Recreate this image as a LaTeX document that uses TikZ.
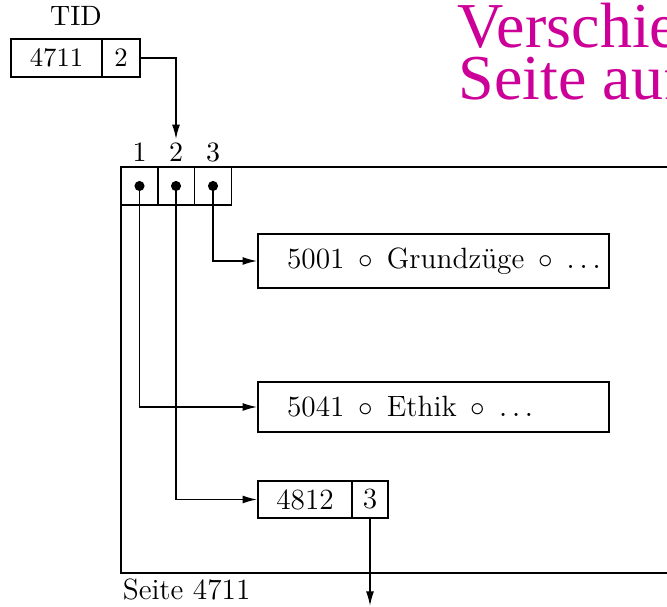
\documentclass[tikz,border=0pt]{standalone}
\usepackage{fontspec}
\newfontfamily\titlefont{Liberation Serif}
\usetikzlibrary{arrows.meta}
\definecolor{titlemag}{RGB}{204,0,153}
\newcommand{\gapsp}{\hspace{5.2pt}}
\begin{document}
\begin{tikzpicture}[x=0.375pt,y=-0.375pt,
  line width=0.6pt,
  arr/.style={-{Latex[length=5.5pt,width=3pt]}},
  tidcell/.style={draw, minimum height=14.25pt, inner sep=0pt, font=\fontsize{10}{12}\selectfont},
  slotcell/.style={draw, minimum width=13.9pt, minimum height=14.25pt, inner sep=0pt},
  recbox/.style={draw, minimum width=131.6pt, text width=131.6pt, inner xsep=0pt, align=left, font=\fontsize{11}{13}\selectfont},
  smallcell/.style={draw, minimum height=13.9pt, inner sep=0pt, font=\fontsize{11}{13}\selectfont},
  numlabel/.style={inner sep=1pt, font=\fontsize{10.5}{12}\selectfont},
  title/.style={anchor=base west, inner sep=0pt, text=titlemag, font=\titlefont\fontsize{24}{24}\selectfont}
]
\useasboundingbox (0,0) rectangle (667,607);
\clip (0,0) rectangle (667,607);

% title (cut off at the right edge)
\node[title] (t1) at (457,48) {Verschieben};
\node[title] (t2) at (458,100) {Seite auf};

% TID
\node[numlabel] (tidlab) at (76,16) {TID};
\node[tidcell, minimum width=34.1pt] (tida) at (56.5,58) {4711};
\node[tidcell, minimum width=14.25pt] (tidb) at (121,58) {2};

% page
\draw (121,167) rectangle (720,573);
\node[anchor=base west, inner sep=0pt, font=\fontsize{11}{13}\selectfont] (seite) at (122,600) {Seite 4711};

% slot cells
\node[slotcell] (s1) at (139.5,186) {};
\node[slotcell] (s2) at (176,186) {};
\node[slotcell] (s3) at (213,186) {};
\node[numlabel] (l1) at (139.5,152) {1};
\node[numlabel] (l2) at (176,152) {2};
\node[numlabel] (l3) at (213,152) {3};
\foreach \s in {s1,s2,s3} \fill (\s.center) circle (1.9pt);

% records
\node[recbox, minimum height=20.25pt] (g) at (433.5,261) {\hspace*{10.9pt}5001\gapsp$\circ$\gapsp Grundzüge\gapsp$\circ$\gapsp$\ldots$};
\node[recbox, minimum height=18.75pt] (e) at (433.5,407) {\hspace*{10.9pt}5041\gapsp$\circ$\gapsp Ethik\gapsp$\circ$\gapsp$\ldots$};
\node[smallcell, minimum width=35.25pt] (ra) at (305,499.5) {4812};
\node[smallcell, minimum width=13.5pt] (rb) at (370,499.5) {3};
\coordinate (down) at (370,606);

% connectors
\draw[arr] (tidb.east) -| (l2.north);
\draw[arr] (s3.center) |- (g.west);
\draw[arr] (s1.center) |- (e.west);
\draw[arr] (s2.center) |- (ra.west);
\draw[arr] (rb.south) -- (down);
\end{tikzpicture}
\end{document}
